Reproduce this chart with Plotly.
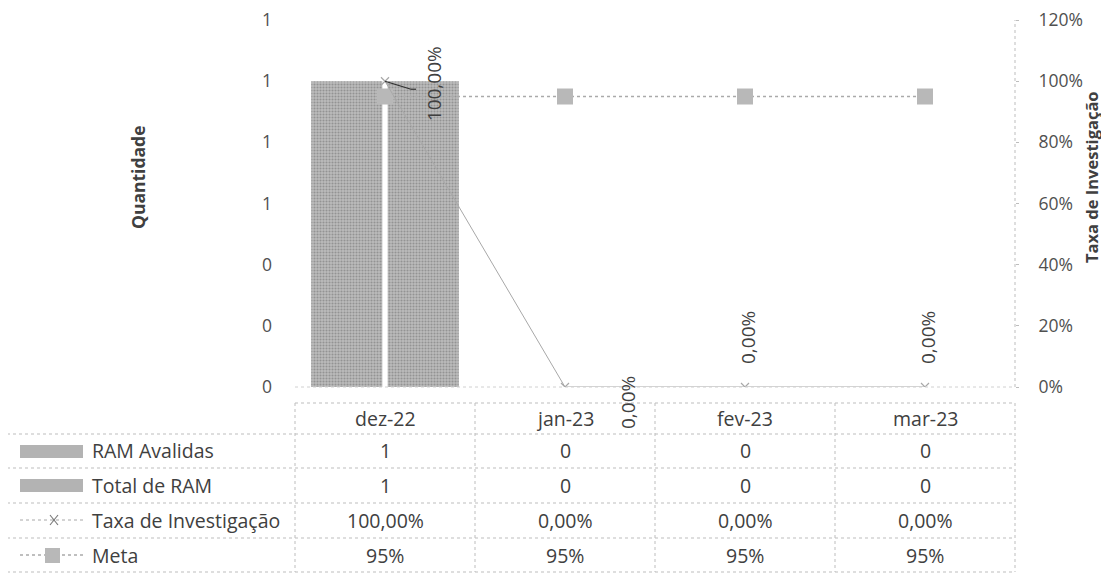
import plotly.graph_objects as go

# ---------------- data ----------------
categories = ["dez-22", "jan-23", "fev-23", "mar-23"]
ram_avalidas = [1, 0, 0, 0]
total_ram = [1, 0, 0, 0]
taxa_investigacao = [1.0, 0.0, 0.0, 0.0]
meta = [0.95, 0.95, 0.95, 0.95]
row_names = ["RAM Avalidas", "Total de RAM", "Taxa de Investigação", "Meta"]
axis_ticks = [0, 0.2, 0.4, 0.6, 0.8, 1.0, 1.2]

OFF = 8  # default page body margin
W, H = 1109, 575
L, R, T, B = 295, 1015, 20, 387
FONT = "Open Sans"
TXT = "#404040"
GRID = "#bdbdbd"
YMAX = 1.2002


def px(x):
    return (x - L) / (R - L)


def py(y):
    return (B - y) / (B - T)


def pct2(v):
    return f"{v*100:.2f}%".replace(".", ",")


def pct0(v):
    return f"{v*100:.0f}%"


fig = go.Figure()

bar_marker = dict(color="#b0b0b0",
                  pattern=dict(shape=".", fgcolor="#6a6a6a", bgcolor="#bcbcbc",
                               size=3, solidity=0.4),
                  line=dict(width=0))
fig.add_trace(go.Bar(x=categories, y=ram_avalidas, name=row_names[0],
                     marker=bar_marker, yaxis="y"))
fig.add_trace(go.Bar(x=categories, y=total_ram, name=row_names[1],
                     marker=bar_marker, yaxis="y"))

fig.add_trace(go.Scatter(x=categories, y=meta, name=row_names[3], yaxis="y2",
                         mode="lines+markers",
                         line=dict(color="#aaaaaa", width=1.5, dash="dot"),
                         marker=dict(symbol="square", size=16, color="#b8b8b8",
                                     line=dict(width=0))))
fig.add_trace(go.Scatter(x=categories, y=taxa_investigacao, name=row_names[2], yaxis="y2",
                         mode="lines+markers",
                         line=dict(color="#a8a8a8", width=1),
                         marker=dict(symbol="x-thin-open", size=8,
                                     line=dict(color="#8a8a8a", width=1.2))))

shapes = []
annotations = []

# data labels for taxa (rotated), with Excel-like offsets
label_offsets = [(49, -3), (63, -16), (3, 49), (3, 49)]
for c, v, (dx, dy) in zip(categories, taxa_investigacao, label_offsets):
    annotations.append(dict(x=c, y=v, xref="x", yref="y2", text=pct2(v),
                            textangle=-90, showarrow=False, xshift=dx, yshift=dy,
                            xanchor="center", yanchor="middle",
                            font=dict(family=FONT, size=19, color=TXT)))

# leader lines
def leader(cat, val, pts):
    for (x0, y0), (x1, y1) in zip(pts[:-1], pts[1:]):
        shapes.append(dict(type="line", xref="x", yref="y2",
                           xsizemode="pixel", ysizemode="pixel",
                           xanchor=cat, yanchor=val,
                           x0=x0, y0=y0, x1=x1, y1=y1,
                           line=dict(color="#303030", width=1.2)))

leader(categories[0], taxa_investigacao[0], [(0, 0), (26, -8), (31, -8)])
leader(categories[1], taxa_investigacao[1], [(0, 0), (30, -18), (43, -18)])

# right axis dotted line
shapes.append(dict(type="line", xref="paper", yref="paper", x0=1, x1=1, y0=0, y1=1,
                   line=dict(color=GRID, width=1, dash="dot")))
# bottom axis line
shapes.append(dict(type="line", xref="paper", yref="paper", x0=0, x1=1, y0=0, y1=0,
                   line=dict(color="#d0d0d0", width=1, dash="dot")))

# ---------------- data table ----------------
row_lines = [403, 434, 468, 503, 538, 572]
row_centers = [418, 451, 485, 520, 555]
col_edges = [295, 475, 655, 835, 1015]
table_left = 7

shapes.append(dict(type="line", xref="paper", yref="paper",
                   x0=px(col_edges[0]), x1=px(col_edges[-1]),
                   y0=py(row_lines[0]), y1=py(row_lines[0]),
                   line=dict(color=GRID, width=1, dash="dot")))
for yl in row_lines[1:]:
    shapes.append(dict(type="line", xref="paper", yref="paper",
                       x0=px(table_left), x1=px(col_edges[-1]), y0=py(yl), y1=py(yl),
                       line=dict(color=GRID, width=1, dash="dot")))
for xe in col_edges:
    shapes.append(dict(type="line", xref="paper", yref="paper",
                       x0=px(xe), x1=px(xe), y0=py(row_lines[0]), y1=py(row_lines[-1]),
                       line=dict(color=GRID, width=1, dash="dot")))
shapes.append(dict(type="line", xref="paper", yref="paper",
                   x0=px(table_left), x1=px(table_left), y0=py(row_lines[1]), y1=py(row_lines[-1]),
                   line=dict(color=GRID, width=1, dash="dot")))

cell_font = dict(family=FONT, size=19.5, color=TXT)
for c in categories:
    annotations.append(dict(x=c, y=py(row_centers[0]), xref="x", yref="paper", text=c,
                            showarrow=False, xanchor="center", yanchor="middle",
                            font=cell_font))
rows_text = [
    [str(v) for v in ram_avalidas],
    [str(v) for v in total_ram],
    [pct2(v) for v in taxa_investigacao],
    [pct0(v) for v in meta],
]
for r, vals in enumerate(rows_text):
    for c, t in zip(categories, vals):
        annotations.append(dict(x=c, y=py(row_centers[r + 1]), xref="x", yref="paper",
                                text=t, showarrow=False, xanchor="center", yanchor="middle",
                                font=cell_font))
    annotations.append(dict(x=px(90), y=py(row_centers[r + 1]), xref="paper", yref="paper",
                            text=row_names[r], showarrow=False, xanchor="left",
                            yanchor="middle", font=cell_font))

# legend keys
for r in range(2):
    yc = row_centers[r + 1]
    shapes.append(dict(type="rect", xref="paper", yref="paper",
                       x0=px(20), x1=px(83), y0=py(yc - 6), y1=py(yc + 7),
                       fillcolor="#b3b3b3", line=dict(width=0)))
yc = row_centers[3]
shapes.append(dict(type="line", xref="paper", yref="paper", x0=px(20), x1=px(83),
                   y0=py(yc), y1=py(yc), line=dict(color="#a8a8a8", width=1, dash="dot")))
shapes.append(dict(type="line", xref="paper", yref="paper", x0=px(50), x1=px(58),
                   y0=py(yc + 5), y1=py(yc - 5), line=dict(color="#7a7a7a", width=1.2)))
shapes.append(dict(type="line", xref="paper", yref="paper", x0=px(50), x1=px(58),
                   y0=py(yc - 5), y1=py(yc + 5), line=dict(color="#7a7a7a", width=1.2)))
yc = row_centers[4]
shapes.append(dict(type="line", xref="paper", yref="paper", x0=px(20), x1=px(83),
                   y0=py(yc), y1=py(yc), line=dict(color="#aaaaaa", width=1.5, dash="dot")))
shapes.append(dict(type="rect", xref="paper", yref="paper", x0=px(45), x1=px(60),
                   y0=py(yc - 7), y1=py(yc + 8), fillcolor="#b8b8b8", line=dict(width=0)))

# axis titles
annotations.append(dict(x=px(138), y=py(177), xref="paper", yref="paper", text="<b>Quantidade</b>",
                        textangle=-90, showarrow=False, xanchor="center", yanchor="middle",
                        font=dict(family=FONT, size=17.5, color=TXT)))
annotations.append(dict(x=px(1091), y=py(177), xref="paper", yref="paper",
                        text="<b>Taxa de Investigação</b>", textangle=-90, showarrow=False,
                        xanchor="center", yanchor="middle",
                        font=dict(family=FONT, size=16.5, color=TXT)))

tick_font = dict(family=FONT, size=17.5, color="#505050")
fig.update_layout(
    width=W - OFF, height=H - OFF,
    margin=dict(l=L - OFF, r=W - R, t=T - OFF, b=H - B, pad=0, autoexpand=False),
    paper_bgcolor="white", plot_bgcolor="white",
    showlegend=False,
    barmode="group", bargap=0.15, bargroupgap=0.07,
    xaxis=dict(type="category", range=[-0.5, 3.5], showticklabels=False, automargin=False,
               showgrid=False, zeroline=False, showline=False, ticks=""),
    yaxis=dict(range=[0, YMAX], tickmode="array", tickvals=axis_ticks, tickformat=".0f",
               showgrid=False, zeroline=False, showline=False, ticks="", automargin=False,
               tickfont=tick_font, ticklabelstandoff=22, ticklabeloverflow="allow"),
    yaxis2=dict(range=[0, YMAX], tickmode="array", tickvals=axis_ticks, tickformat=".0%",
                overlaying="y", side="right", showgrid=False, zeroline=False, automargin=False,
                showline=False, ticks="outside", ticklen=3, tickcolor=GRID,
                tickfont=tick_font, ticklabelstandoff=16, ticklabeloverflow="allow"),
    shapes=shapes,
    annotations=annotations,
    font=dict(family=FONT, color=TXT),
)

fig.write_html("out.html")
